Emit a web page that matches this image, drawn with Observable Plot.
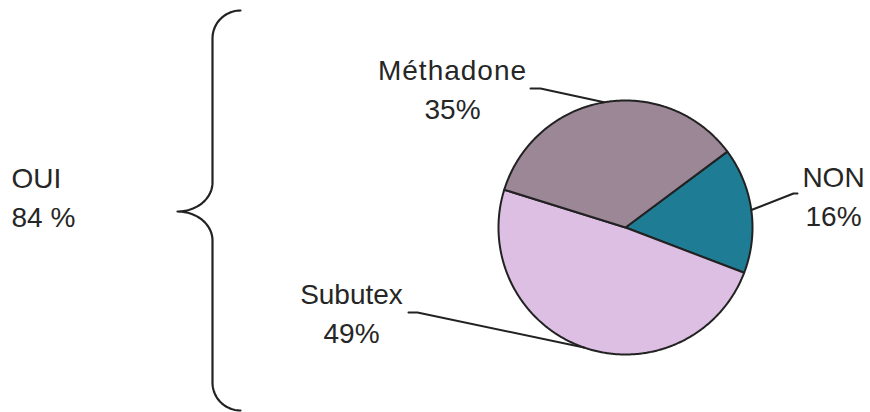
<!DOCTYPE html>
<html><head><meta charset="utf-8">
<script src="https://cdn.jsdelivr.net/npm/d3@7"></script>
<script src="https://cdn.jsdelivr.net/npm/@observablehq/plot@0.6"></script>
<style>body{margin:0;background:#fff}</style>
</head><body><div id="chart"></div>
<script>
// ---- data ----
const categories = ["NON", "Subutex", "Méthadone"];
const shares = [16, 49, 35];
const colors = ["#1f7c95", "#dcbfe2", "#9c8797"];
const groupLabel = "OUI";
const groupShare = 84;

// ---- layout ----
const W = 870, H = 412;
const cx = 625, cy = 227, R = 127, startDeg = 53.3;
const labelLayout = {
  "NON":       {x: 833, y: 225, elbow: [[793, 193], [797, 193]]},
  "Subutex":   {x: 351, y: 342, elbow: [[417, 312], [408, 312]]},
  "Méthadone": {x: 452, y: 118, elbow: [[540, 88], [530, 88]]}
};
const brace = {x: 212, tipX: 177, tipY: 211, top: 10, bottom: 410, endX: 240};

// ---- geometry derived from data ----
const total = d3.sum(shares);
let acc = startDeg;
const slices = categories.map((cat, i) => {
  const a0 = acc, a1 = acc + shares[i] / total * 360;
  acc = a1;
  return {cat, share: shares[i], a0, a1, mid: (a0 + a1) / 2};
});
const rad = d => d * Math.PI / 180;
const pt = (deg, r = R) => [cx + r * Math.sin(rad(deg)), cy - r * Math.cos(rad(deg))];

const slicePts = slices.flatMap(s => {
  const pts = [{cat: s.cat, x: cx, y: cy}];
  const n = Math.ceil((s.a1 - s.a0) * 2);
  for (let k = 0; k <= n; k++) {
    const [x, y] = pt(s.a0 + (s.a1 - s.a0) * k / n);
    pts.push({cat: s.cat, x, y});
  }
  return pts;
});

const leaderPts = slices.flatMap(s => {
  const [x, y] = pt(s.mid);
  return [{cat: s.cat, x, y}, ...labelLayout[s.cat].elbow.map(([ex, ey]) => ({cat: s.cat, x: ex, y: ey}))];
});

function arc(c0, c1, rx, ry, t0, t1) {
  const out = [];
  const n = 24;
  for (let k = 0; k <= n; k++) {
    const t = rad(t0 + (t1 - t0) * k / n);
    out.push({x: c0 + rx * Math.cos(t), y: c1 + ry * Math.sin(t)});
  }
  return out;
}
const rEnd = brace.endX - brace.x;
const rTipX = brace.x - brace.tipX;
const rTipY = 29;
const bracePts = [
  ...arc(brace.endX, brace.top + rEnd, rEnd, rEnd, 270, 180),
  ...arc(brace.tipX, brace.tipY - rTipY, rTipX, rTipY, 0, 90),
  ...arc(brace.tipX, brace.tipY + rTipY, rTipX, rTipY, -90, 0),
  ...arc(brace.endX, brace.bottom - rEnd, rEnd, rEnd, 180, 90)
];

const font = "'Liberation Sans', Arial, Helvetica, sans-serif";
const chart = Plot.plot({
  width: W, height: H, margin: 0,
  x: {domain: [0, W], range: [0, W], axis: null},
  y: {domain: [0, H], range: [0, H], axis: null},
  color: {domain: categories, range: colors},
  style: {fontFamily: font, background: "#fff"},
  marks: [
    Plot.line(slicePts, {x: "x", y: "y", z: "cat", fill: "cat", stroke: "#222", strokeWidth: 2, curve: "linear-closed", strokeLinejoin: "round"}),
    Plot.line(leaderPts, {x: "x", y: "y", z: "cat", stroke: "#222", strokeWidth: 2}),
    Plot.line(bracePts, {x: "x", y: "y", stroke: "#222", strokeWidth: 2.2}),
    Plot.text(slices, {
      x: d => labelLayout[d.cat].x, y: d => labelLayout[d.cat].y,
      text: d => `${d.cat}\n${d.share}%`,
      textAnchor: "middle", lineAnchor: "bottom", lineHeight: 1.36,
      fontSize: 28, fill: "#262626"
    }),
    Plot.text([{label: groupLabel, share: groupShare}], {
      x: () => 11, y: () => 226,
      text: d => `${d.label}\n${d.share} %`,
      textAnchor: "start", lineAnchor: "bottom", lineHeight: 1.36,
      fontSize: 28, fill: "#262626"
    })
  ]
});
d3.select(chart).selectAll("tspan").filter(function() { return this.textContent === "Méthadone"; })
  .attr("letter-spacing", "1px");
document.getElementById("chart").append(chart);
</script>
</body></html>
